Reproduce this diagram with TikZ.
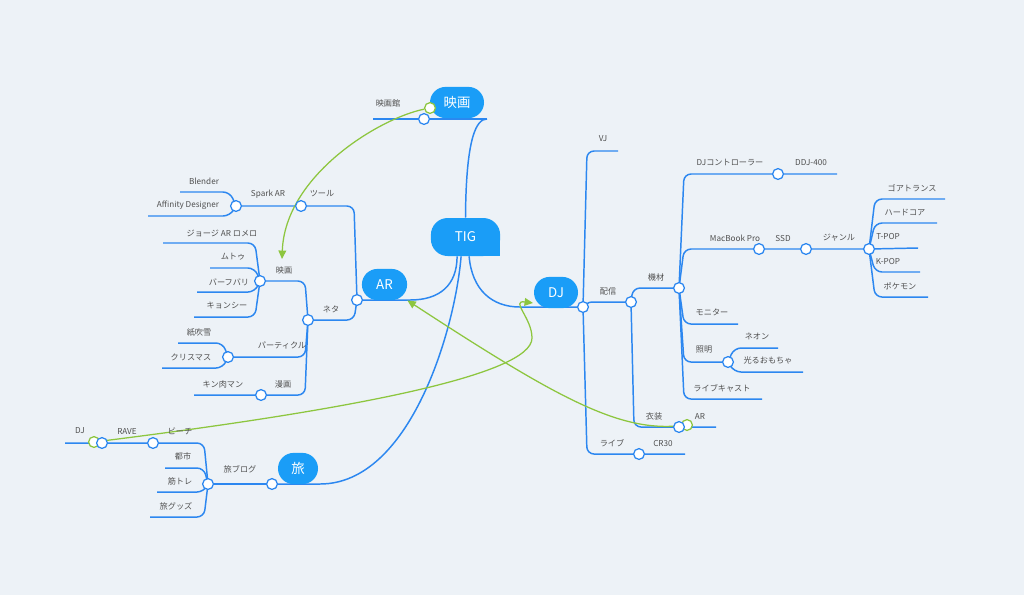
\documentclass[tikz,border=0pt]{standalone}
\usepackage{fontspec}
\setmainfont{Noto Sans CJK JP}
\usetikzlibrary{arrows.meta,backgrounds}
\definecolor{mapbg}{HTML}{EDF2F7}
\definecolor{mapblue}{HTML}{2C87F0}
\definecolor{topicblue}{HTML}{1A9DF7}
\definecolor{relgreen}{HTML}{8DC63F}
\definecolor{labelgray}{HTML}{505050}

\begin{document}
\begin{tikzpicture}[
    x=0.025cm, y=-0.025cm,
    topic/.style={rectangle, fill=topicblue, text=white, rounded corners=0.39cm, minimum height=0.78cm, inner sep=0pt, font=\fontsize{9.5}{10}\selectfont},
    lbl/.style={text=labelgray, inner sep=0pt, font=\fontsize{5.8}{6}\selectfont},
    knob/.style={circle, draw=mapblue, fill=white, line width=0.9pt, minimum size=0.27cm, inner sep=0pt},
    gknob/.style={knob, draw=relgreen},
    branch/.style={draw=mapblue, line width=1.05pt},
    elbow/.style={branch, rounded corners=5pt},
    rel/.style={draw=relgreen, line width=0.9pt, -{Triangle[length=6pt,width=5.5pt]}},
]
    \useasboundingbox (0,0) rectangle (1024,595);

    % Topics
    \node[topic, minimum width=1.73cm, minimum height=0.95cm, rounded corners=0.42cm] (tig) at (465.5,237) {TIG};
    \fill[topicblue] (tig.south east) rectangle ++(-16,-16);
    \node[topic, minimum width=1.35cm] (eiga) at (457,102.5) {映画};
    \node[topic, minimum width=1.13cm] (ar) at (384.5,284.5) {AR};
    \node[topic, minimum width=1.1cm] (dj) at (556,292.5) {DJ};
    \node[topic, minimum width=1.0cm] (tabi) at (298,468.5) {旅};

    % Relation start points
    \node[gknob] (g1) at (430,108) {};
    \node[gknob] (g2) at (94,442) {};
    \node[gknob] (g3) at (687,425) {};

    % Junctions
    \node[knob] (eigakan-k) at (424,119) {};
    \node[knob] (ar-k) at (357,300) {};
    \node[knob] (tool-k) at (301,206) {};
    \node[knob] (spark-k) at (236,206) {};
    \node[knob] (neta-k) at (308,320) {};
    \node[knob] (movie-k) at (260,281) {};
    \node[knob] (particle-k) at (228,357) {};
    \node[knob] (manga-k) at (261,395) {};
    \node[knob] (tabi-k) at (272,484) {};
    \node[knob] (blog-k) at (208,484) {};
    \node[knob] (beach-k) at (153,443) {};
    \node[knob] (rave-k) at (102,443) {};
    \node[knob] (dj-k) at (583,307) {};
    \node[knob] (haishin-k) at (631,302) {};
    \node[knob] (kizai-k) at (679,288) {};
    \node[knob] (ishou-k) at (679,427) {};
    \node[knob] (live-k) at (639,454) {};
    \node[knob] (djc-k) at (778,174) {};
    \node[knob] (mac-k) at (759,249) {};
    \node[knob] (ssd-k) at (806,249) {};
    \node[knob] (genre-k) at (869,249) {};
    \node[knob] (light-k) at (728,362) {};

    % Line ends
    \coordinate (eigakan-e) at (373,119);
    \coordinate (eiga-r) at (487,119);
    \coordinate (blender-e) at (180,192);
    \coordinate (affinity-e) at (148,216);
    \coordinate (george-e) at (163,243);
    \coordinate (mutu-e) at (210,268);
    \coordinate (baahu-e) at (197,292);
    \coordinate (kyon-e) at (194,317);
    \coordinate (kami-e) at (178,343);
    \coordinate (xmas-e) at (162,368);
    \coordinate (kin-e) at (194,395);
    \coordinate (ar-r) at (410,300);
    \coordinate (tabi-r) at (320,484);
    \coordinate (toshi-e) at (165,468);
    \coordinate (kintore-e) at (157,492);
    \coordinate (goods-e) at (150,517);
    \coordinate (dj2-e) at (65,443);
    \coordinate (dj-l) at (520,307);
    \coordinate (vj-e) at (618,151);
    \coordinate (cr30-e) at (685,454);
    \coordinate (ar2-e) at (716,427);
    \coordinate (ddj-e) at (837,174);
    \coordinate (monitor-e) at (738,324);
    \coordinate (cast-e) at (762,399);
    \coordinate (neon-e) at (778,348);
    \coordinate (toy-e) at (803,372);
    \coordinate (goa-e) at (945,199);
    \coordinate (hard-e) at (937,223);
    \coordinate (tpop-e) at (918,248);
    \coordinate (kpop-e) at (920,272);
    \coordinate (poke-e) at (928,297);
    \coordinate (movie-tip) at (282,259);
    \coordinate (dj-bend) at (532,338);
    \coordinate (dj-tip) at (533,303);

    % Labels
    \node[lbl] at (388,103) {映画館};
    \node[lbl] at (322,194) {ツール};
    \node[lbl] at (268,194) {Spark AR};
    \node[lbl] at (204,181) {Blender};
    \node[lbl] at (188,205) {Affinity Designer};
    \node[lbl] at (222,233) {ジョージ AR ロメロ};
    \node[lbl] at (233,257) {ムトゥ};
    \node[lbl] at (284,270) {映画};
    \node[lbl] at (229,282) {バーフバリ};
    \node[lbl] at (227,305) {キョンシー};
    \node[lbl] at (331,309) {ネタ};
    \node[lbl] at (199,332) {紙吹雪};
    \node[lbl] at (282,346) {パーティクル};
    \node[lbl] at (191,357) {クリスマス};
    \node[lbl] at (223,384) {キン肉マン};
    \node[lbl] at (283,384) {漫画};
    \node[lbl] at (80,431) {DJ};
    \node[lbl] at (127,431) {RAVE};
    \node[lbl] at (180,431) {ビーチ};
    \node[lbl] at (183,456) {都市};
    \node[lbl] at (240,469) {旅ブログ};
    \node[lbl] at (180,481) {筋トレ};
    \node[lbl] at (176,506) {旅グッズ};
    \node[lbl] at (603,139) {VJ};
    \node[lbl] at (730,163) {DJコントローラー};
    \node[lbl] at (811,163) {DDJ-400};
    \node[lbl] at (735,238) {MacBook Pro};
    \node[lbl] at (783,238) {SSD};
    \node[lbl] at (839,238) {ジャンル};
    \node[lbl] at (656,277) {機材};
    \node[lbl] at (608,291) {配信};
    \node[lbl] at (712,312) {モニター};
    \node[lbl] at (757,336) {ネオン};
    \node[lbl] at (704,350) {照明};
    \node[lbl] at (768,360) {光るおもちゃ};
    \node[lbl] at (722,388) {ライブキャスト};
    \node[lbl] at (654,416) {衣装};
    \node[lbl] at (700,416) {AR};
    \node[lbl] at (612,443) {ライブ};
    \node[lbl] at (663,443) {CR30};
    \node[lbl] at (912,188) {ゴアトランス};
    \node[lbl] at (905,213) {ハードコア};
    \node[lbl] at (888,237) {T-POP};
    \node[lbl] at (888,261) {K-POP};
    \node[lbl] at (900,286) {ポケモン};

    \begin{scope}[on background layer]
    \fill[mapbg] (0,0) rectangle (1024,595);

    % Main branches
    \draw[branch] (eigakan-e) -- (eiga-r);
    \draw[branch] (eiga-r) .. controls (477,119) and (466,135) .. (tig.north);
    \draw[branch] (ar-k.center) -- (ar-r) .. controls (440,300) and (457,285) .. ([xshift=-0.21cm]tig.south);
    \draw[branch] (tabi-k.center) -- (tabi-r) .. controls (410,484) and (455,330) .. ([xshift=-0.11cm]tig.south);
    \draw[branch] ([xshift=0.09cm]tig.south) .. controls (472,290) and (492,307) .. (dj-l) -- (dj-k.center);

    % AR
    \draw[elbow] (spark-k.center) -- (354,206) -- (ar-k.center);
    \draw[elbow] (neta-k.center) -- (354,320) -- (ar-k.center);
    \draw[elbow] (blender-e) -- (230,192) -- (spark-k.center);
    \draw[elbow] (affinity-e) -- (230,216) -- (spark-k.center);
    \draw[elbow] (movie-k.center) -- (305,281) -- (neta-k.center);
    \draw[elbow] (particle-k.center) -- (305,357) -- (neta-k.center);
    \draw[elbow] (kin-e) -- (305,395) -- (neta-k.center);
    \draw[elbow] (george-e) -- (255,243) -- (movie-k.center);
    \draw[elbow] (mutu-e) -- (255,268) -- (movie-k.center);
    \draw[elbow] (baahu-e) -- (255,292) -- (movie-k.center);
    \draw[elbow] (kyon-e) -- (255,317) -- (movie-k.center);
    \draw[elbow] (kami-e) -- (223,343) -- (particle-k.center);
    \draw[elbow] (xmas-e) -- (223,368) -- (particle-k.center);

    % 旅
    \draw[branch] (blog-k.center) -- (tabi-k.center);
    \draw[elbow] (dj2-e) -- (204,443) -- (blog-k.center);
    \draw[elbow] (toshi-e) -- (204,468) -- (blog-k.center);
    \draw[elbow] (kintore-e) -- (204,492) -- (blog-k.center);
    \draw[elbow] (goods-e) -- (204,517) -- (blog-k.center);

    % DJ
    \draw[elbow] (dj-k.center) -- (587,151) -- (vj-e);
    \draw[elbow] (dj-k.center) -- (587,454) -- (cr30-e);
    \draw[elbow, rounded corners=2pt] (dj-k.center) -- (589,302) -- (haishin-k.center);
    \draw[elbow] (haishin-k.center) -- (633,288) -- (kizai-k.center);
    \draw[elbow] (haishin-k.center) -- (634,427) -- (ar2-e);
    \draw[elbow] (kizai-k.center) -- (684,174) -- (ddj-e);
    \draw[elbow] (kizai-k.center) -- (684,249) -- (genre-k.center);
    \draw[elbow] (kizai-k.center) -- (684,324) -- (monitor-e);
    \draw[elbow] (kizai-k.center) -- (684,362) -- (light-k.center);
    \draw[elbow] (kizai-k.center) -- (684,399) -- (cast-e);
    \draw[elbow] (light-k.center) -- (734,348) -- (neon-e);
    \draw[elbow] (light-k.center) -- (734,372) -- (toy-e);
    \draw[elbow] (genre-k.center) -- (875,199) -- (goa-e);
    \draw[elbow] (genre-k.center) -- (875,223) -- (hard-e);
    \draw[branch] (genre-k.center) -- (tpop-e);
    \draw[elbow] (genre-k.center) -- (875,272) -- (kpop-e);
    \draw[elbow] (genre-k.center) -- (875,297) -- (poke-e);

    % Relations
    \draw[rel] (g1) .. controls (380,118) and (285,175) .. (movie-tip);
    \draw[rel] (g3) .. controls (620,432) and (560,400) .. (ar.south east);
    \draw[rel] (g2) .. controls (350,410) and (532,375) .. (dj-bend) .. controls (532,318) and (510,300) .. (dj-tip);
    \end{scope}
\end{tikzpicture}
\end{document}
